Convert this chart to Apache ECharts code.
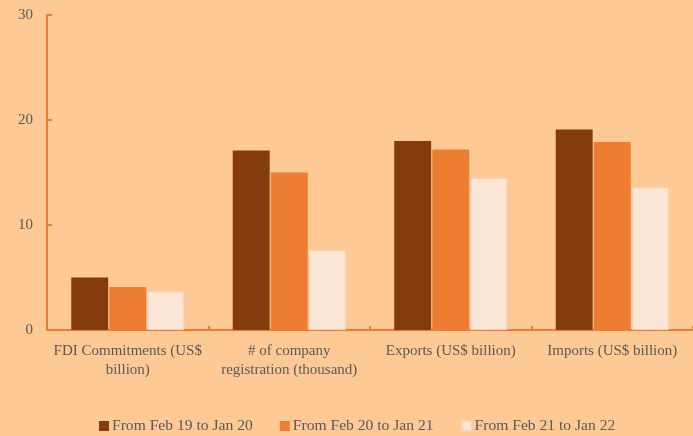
<!DOCTYPE html>
<html>
<head>
<meta charset="utf-8">
<script src="https://cdn.jsdelivr.net/npm/echarts@6/dist/echarts.min.js"></script>
<style>
  html, body { margin: 0; padding: 0; background: #fec995; }
  #chart { width: 693px; height: 436px; }
</style>
</head>
<body>
<div id="chart"></div>
<script>
const categories = [
  'FDI Commitments (US$\nbillion)',
  '# of company\nregistration (thousand)',
  'Exports (US$ billion)',
  'Imports (US$ billion)'
];
const seriesNames = ['From Feb 19 to Jan 20', 'From Feb 20 to Jan 21', 'From Feb 21 to Jan 22'];
const period1 = [5.0, 17.1, 18.0, 19.1];
const period2 = [4.1, 15.0, 17.2, 17.9];
const period3 = [3.7, 7.6, 14.5, 13.6];
const yTicks = [0, 10, 20, 30];

const colors = ['#843c0c', '#ed7d31', '#fbe5d6'];
const font = '"Liberation Serif", "DejaVu Serif", serif';
const textColor = '#595959';
const axisColor = '#ed7d31';

const chart = echarts.init(document.getElementById('chart'));
const values = [period1, period2, period3];

chart.setOption({
  backgroundColor: '#fec995',
  animation: false,
  textStyle: { fontFamily: font },
  grid: { left: 47, right: 0, top: 15, bottom: 106, containLabel: false },
  legend: {
    top: 413,
    left: 94,
    itemWidth: 10,
    itemHeight: 10,
    itemGap: 27,
    icon: 'rect',
    textStyle: { fontFamily: font, fontSize: 15.6, color: textColor, padding: [0, 0, 0, -2] },
    data: seriesNames
  },
  xAxis: {
    type: 'category',
    data: categories,
    axisLine: { lineStyle: { color: axisColor, width: 2 } },
    axisTick: { show: true, inside: true, length: 4, lineStyle: { color: axisColor, width: 2 } },
    axisLabel: {
      fontFamily: font, fontSize: 15, color: textColor,
      margin: 12, lineHeight: 19, interval: 0
    }
  },
  yAxis: {
    type: 'value',
    min: yTicks[0],
    max: yTicks[yTicks.length - 1],
    interval: 10,
    splitLine: { show: false },
    axisLine: { show: true, lineStyle: { color: axisColor, width: 2 } },
    axisTick: { show: true, inside: true, length: 5, lineStyle: { color: axisColor, width: 2 } },
    axisLabel: { fontFamily: font, fontSize: 15, color: textColor, margin: 14 }
  },
  series: seriesNames.map((name, i) => ({
    name: name,
    type: 'bar',
    data: values[i],
    barGap: '3%',
    barCategoryGap: '30%',
    itemStyle: {
      color: colors[i],
      borderColor: i === 2 ? '#f8d2b6' : colors[i],
      borderWidth: i === 2 ? 1 : 0
    }
  }))
});
</script>
</body>
</html>
